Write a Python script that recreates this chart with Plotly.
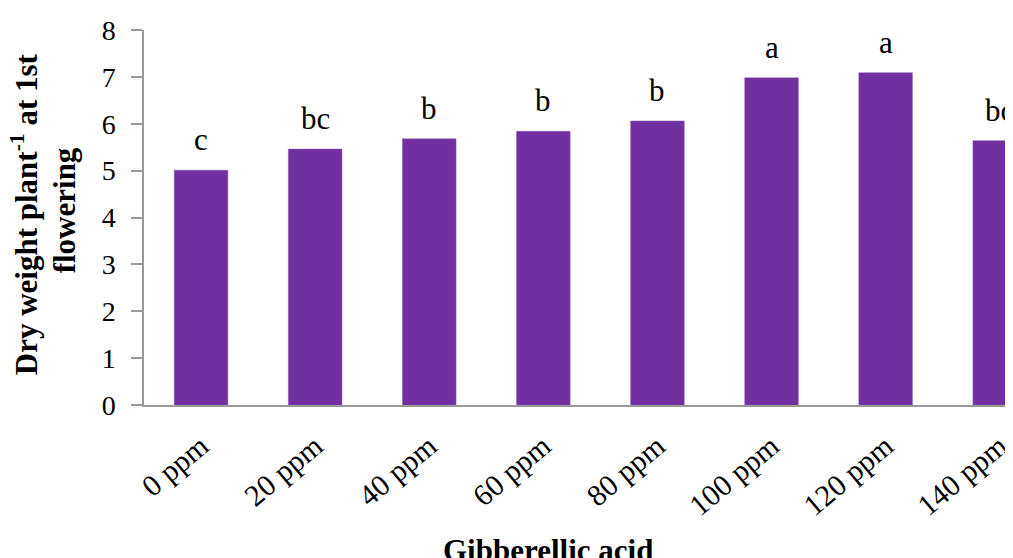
import plotly.graph_objects as go

categories = ["0 ppm", "20 ppm", "40 ppm", "60 ppm", "80 ppm", "100 ppm", "120 ppm", "140 ppm"]
dry_weight = [5.01, 5.46, 5.68, 5.84, 6.06, 6.98, 7.09, 5.64]
letters = ["c", "bc", "b", "b", "b", "a", "a", "bc"]
y_ticks = [0, 1, 2, 3, 4, 5, 6, 7, 8]

FONT = "Liberation Serif, Times New Roman, serif"
PURPLE = "#7030A0"

fig = go.Figure()
fig.add_trace(go.Bar(
    x=list(range(len(categories))),
    y=dry_weight,
    width=0.47,
    marker=dict(color=PURPLE, line=dict(color="#8a5cb8", width=0.5)),
    showlegend=False,
))

for i, (v, t) in enumerate(zip(dry_weight, letters)):
    fig.add_annotation(x=i, y=v, text=t, showarrow=False, xref="x", yref="y",
                       yanchor="bottom", yshift=11,
                       font=dict(family=FONT, size=31, color="black"))

fig.add_annotation(
    text="Dry weight plant<sup>-1</sup> at 1st",
    xref="paper", yref="paper", x=-0.138, y=0.51, xanchor="center", yanchor="middle",
    textangle=-90, showarrow=False,
    font=dict(family=FONT, size=31, color="black", weight="bold"),
)
fig.add_annotation(
    text="flowering",
    xref="paper", yref="paper", x=-0.092, y=0.52, xanchor="center", yanchor="middle",
    textangle=-90, showarrow=False,
    font=dict(family=FONT, size=31, color="black", weight="bold"),
)
fig.add_annotation(
    text="Gibberellic acid",
    xref="paper", yref="paper", x=0.467, y=-0.335, xanchor="center", yanchor="top",
    showarrow=False,
    font=dict(family=FONT, size=31, color="black", weight="bold"),
)

fig.update_layout(
    width=1005, height=550,
    margin=dict(l=136, r=0, t=22, b=153),
    plot_bgcolor="white", paper_bgcolor="white",
    bargap=0.53,
)
fig.update_xaxes(
    range=[-0.5, 7.09],
    tickmode="array", tickvals=list(range(len(categories))), ticktext=categories,
    tickangle=-40, ticklabeloverflow="allow", ticklabelstandoff=10,
    tickfont=dict(family=FONT, size=30, color="black"),
    showline=True, linecolor="#999999", linewidth=1.5,
    showgrid=False, ticks="", zeroline=False,
)
fig.update_yaxes(
    range=[0, 8],
    tickmode="array", tickvals=y_ticks,
    tickfont=dict(family=FONT, size=28, color="black"),
    showline=True, linecolor="#999999", linewidth=1.5,
    ticks="outside", ticklen=11, tickcolor="#999999", tickwidth=1.5,
    ticklabelstandoff=10,
    showgrid=False, zeroline=False,
)

fig.write_html("out.html")
